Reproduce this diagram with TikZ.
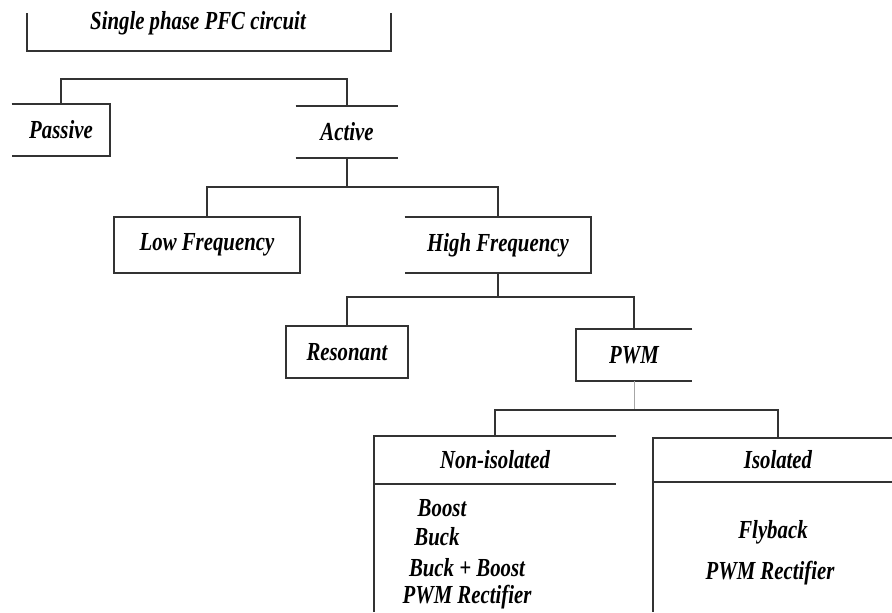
\documentclass[tikz,border=0pt]{standalone}
\usepackage{fontspec}
\newfontfamily\pfcfont[FakeStretch=0.8]{Liberation Serif}
\begin{document}
\begin{tikzpicture}
    [
        x=0.25mm, y=-0.25mm,
        box/.style={rectangle, inner sep=0pt, font=\pfcfont\bfseries\itshape\fontsize{18.5}{20}\selectfont},
        item/.style={inner sep=0pt, font=\pfcfont\bfseries\itshape\fontsize{18.5}{20}\selectfont},
        edge/.style={draw=black!80, line width=1.2pt},
        thinedge/.style={draw=black!35, line width=0.5pt},
    ]
    \useasboundingbox (0,0) rectangle (892,612);
    \coordinate (base) at (0,612);

    % root
    \node (title) at (209,23) [box, minimum width=91mm, minimum height=14mm] {Single phase PFC circuit\hspace*{5.5mm}};
    \draw[edge] ([yshift=9.5mm]title.south west) -- (title.south west)
        -- (title.south east) -- ([yshift=9.5mm]title.south east);

    % passive / active
    \node (passive) at (61,130) [box, minimum width=24.5mm, minimum height=13mm] {Passive};
    \node (active)  at (347,132) [box, minimum width=25.5mm, minimum height=13mm] {Active};
    \coordinate (bus1) at (202,79);

    \draw[edge] (passive.north west) -- (passive.north east) -- (passive.south east) -- (passive.south west);
    \draw[edge] (active.north west) -- (active.north east);
    \draw[edge] (active.south west) -- (active.south east);
    \draw[edge] (passive.north) |- (bus1) -| (active.north);

    % low / high frequency
    \node (lowf)  at (207,245) [box, minimum width=46.5mm, minimum height=14mm] {Low Frequency};
    \node (highf) at (498,245) [box, minimum width=46.5mm, minimum height=14mm] {High Frequency};
    \coordinate (bus2) at (347,187);

    \draw[edge] (lowf.south west) rectangle (lowf.north east);
    \draw[edge] (highf.north west) -- (highf.north east) -- (highf.south east) -- (highf.south west);
    \draw[edge] (active.south) -- (bus2);
    \draw[edge] (lowf.north) |- (bus2) -| (highf.north);

    % resonant / pwm
    \node (reson) at (347,352) [box, minimum width=30.25mm, minimum height=12.75mm] {Resonant};
    \node (pwm)   at (634,355) [box, minimum width=29mm, minimum height=12.75mm] {PWM};
    \coordinate (bus3) at (498,297);

    \draw[edge] (reson.south west) rectangle (reson.north east);
    \draw[edge] (pwm.north east) -- (pwm.north west) -- (pwm.south west) -- (pwm.south east);
    \draw[edge] (highf.south) -- (bus3);
    \draw[edge] (reson.north) |- (bus3) -| (pwm.north);

    % non-isolated / isolated
    \node (noniso) at (495,460) [box, minimum width=60.5mm, minimum height=11.75mm] {Non-isolated};
    \node (iso)    at (778,460) [box, minimum width=62.5mm, minimum height=10.75mm] {Isolated};
    \coordinate (bus4) at (634,410);

    \draw[thinedge] (pwm.south) -- (bus4);
    \draw[edge] (noniso.north) |- (bus4) -| (iso.north);
    \draw[edge] (noniso.north east) -- (noniso.north west) -- (noniso.west |- base);
    \draw[edge] (noniso.south west) -- (noniso.south east);
    \draw[edge] (iso.north east) -- (iso.north west) -- (iso.west |- base);
    \draw[edge] (iso.south west) -- (iso.south east);

    % converter lists
    \node (boost)     at (442,508) [item] {Boost};
    \node (buck)      at (437,537) [item] {Buck};
    \node (buckboost) at (467,568) [item] {Buck + Boost};
    \node (pwmrecta)  at (467,597) [item] {PWM Rectifier};

    \node (flyback)   at (773,532) [item] {Flyback};
    \node (pwmrectb)  at (770,573) [item] {PWM Rectifier};

\end{tikzpicture}
\end{document}
